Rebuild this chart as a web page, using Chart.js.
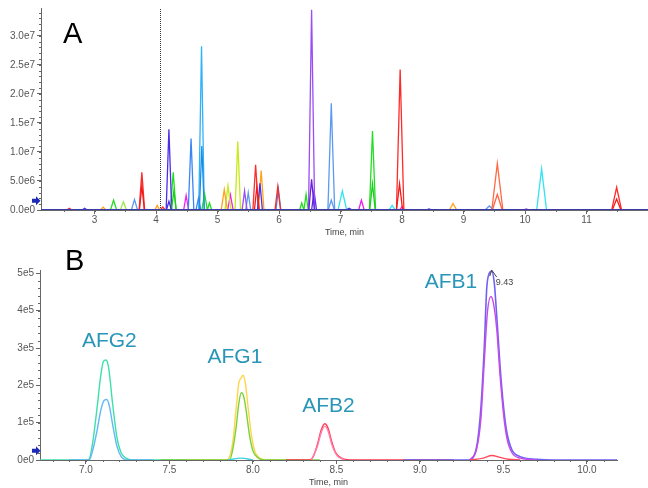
<!DOCTYPE html>
<html><head><meta charset="utf-8">
<script src="https://cdn.jsdelivr.net/npm/chart.js@4.4.1/dist/chart.umd.min.js"></script>
<style>
html,body{margin:0;padding:0;background:#fff;width:648px;height:488px;overflow:hidden}
#a{position:absolute;left:0;top:0}
#b{position:absolute;left:0;top:240px}
</style></head><body>
<canvas id="a" width="648" height="240"></canvas>
<canvas id="b" width="648" height="248"></canvas>
<script>
// ---------- Panel A: peaks as [retention time (min), height (x1e6), half base width (min)] ----------
const peaksRed      = [[2.59,0.3,0.04],[3.77,6.5,0.045],[4.11,0.5,0.04],[5.62,7.8,0.045],[5.98,4.0,0.045],[7.97,24.2,0.06],[11.49,3.9,0.08]];
const peaksRedQ     = [[3.77,4.2,0.04],[5.64,4.0,0.04],[7.96,4.5,0.05],[11.49,1.9,0.07]];
const peaksOrRed    = [[9.55,8.0,0.09]];
const peaksOrRedQ   = [[9.55,2.7,0.08]];
const peaksOrange   = [[3.14,0.5,0.045],[4.02,0.8,0.04],[5.11,3.5,0.05],[5.71,6.8,0.045],[8.83,1.1,0.06]];
const peaksGreen    = [[3.31,1.7,0.05],[4.28,6.5,0.045],[4.79,2.8,0.045],[4.87,1.2,0.035],[6.37,1.2,0.035],[6.44,2.7,0.035],[7.52,13.6,0.05]];
const peaksGreenQ   = [[4.29,3.2,0.04],[7.52,4.5,0.045]];
const peaksLtGreen  = [[3.47,1.4,0.05]];
const peaksYlGreen  = [[5.17,4.2,0.05],[5.33,11.8,0.045]];
const peaksCorn     = [[3.65,1.8,0.05],[5.50,3.0,0.04],[6.85,18.4,0.055],[9.42,0.7,0.07]];
const peaksCornQ    = [[6.85,1.7,0.05]];
const peaksSteel    = [[5.99,3.6,0.04]];
const peaksDodger   = [[4.57,12.3,0.045],[4.69,2.0,0.04]];
const peaksSky      = [[4.74,28.2,0.045]];
const peaksSkyQ     = [[4.745,11.0,0.04]];
const peaksCyan     = [[7.03,3.3,0.07],[7.84,0.8,0.05],[10.27,7.1,0.08]];
const peaksMagenta  = [[4.49,2.5,0.04],[5.21,2.6,0.045],[7.34,1.7,0.045],[8.00,0.6,0.04]];
const peaksPurple   = [[5.44,3.3,0.04],[6.53,34.5,0.05],[10.02,0.2,0.05]];
const peaksPurpleQ  = [[6.53,5.3,0.045]];
const peaksViolet   = [[2.84,0.3,0.04],[4.21,13.9,0.045],[5.69,4.6,0.04],[6.57,3.2,0.04],[7.14,0.3,0.05],[8.44,0.2,0.05]];
const peaksVioletQ  = [[4.21,1.5,0.04]];
const aTimeRange    = [2.13, 12.0];
const aXTicks       = [3,4,5,6,7,8,9,10,11];
const aYTicks       = [0,5e6,1e7,1.5e7,2e7,2.5e7,3e7];
const aXMinorStep   = 0.5;
const aYMinorStep   = 1e6;
const aMarkerTime   = 4.06;
const aArrowLevel   = 1.6e6;

// ---------- Panel B: traces as [time (min), intensity (x1e5)] ----------
const afg2Green = [[6.725,0],[7.0,0],[7.02,0.03],[7.04,0.45],[7.065,1.33],[7.09,2.3],[7.105,2.64],[7.12,2.68],[7.135,2.5],[7.16,1.5],[7.185,0.62],[7.21,0.2],[7.24,0.05],[7.28,0],[7.6,0]];
const afg2Blue  = [[6.9,0],[7.02,0],[7.04,0.25],[7.065,0.75],[7.09,1.35],[7.11,1.6],[7.125,1.62],[7.14,1.45],[7.16,0.95],[7.185,0.38],[7.21,0.1],[7.25,0],[7.4,0]];
const afg1Yellow= [[7.6,0],[7.84,0],[7.86,0.08],[7.88,0.5],[7.9,1.4],[7.915,2.05],[7.93,2.2],[7.94,2.27],[7.955,2.05],[7.97,1.45],[7.99,0.7],[8.01,0.25],[8.04,0.05],[8.08,0],[8.3,0]];
const afg1Green = [[7.45,0],[7.86,0],[7.88,0.3],[7.9,0.9],[7.915,1.5],[7.93,1.8],[7.945,1.7],[7.96,1.3],[7.98,0.65],[8.0,0.25],[8.03,0.06],[8.07,0],[8.4,0]];
const cyanBump  = [[7.85,0],[7.93,0.05],[8.0,0]];
const afb2Red   = [[8.2,0],[8.34,0],[8.36,0.08],[8.385,0.4],[8.41,0.82],[8.43,0.97],[8.45,0.85],[8.47,0.52],[8.495,0.2],[8.53,0.05],[8.58,0],[9.2,0]];
const afb2Pink  = [[8.35,0],[8.385,0.35],[8.41,0.75],[8.43,0.9],[8.45,0.78],[8.47,0.45],[8.5,0.14],[8.55,0]];
const afb1Blue  = [[8.9,0],[9.29,0],[9.32,0.08],[9.345,0.5],[9.365,1.4],[9.385,3.0],[9.40,4.6],[9.415,5.0],[9.43,5.06],[9.445,4.75],[9.46,3.85],[9.48,2.5],[9.50,1.45],[9.52,0.75],[9.55,0.28],[9.6,0.09],[9.7,0.02],[9.8,0],[10.18,0]];
const afb1Violet= [[9.3,0],[9.34,0.3],[9.365,1.1],[9.385,2.6],[9.405,4.0],[9.425,4.38],[9.44,4.2],[9.46,3.5],[9.48,2.25],[9.50,1.25],[9.52,0.6],[9.55,0.2],[9.6,0.05],[9.7,0]];
const afb1Red   = [[9.3,0],[9.38,0.05],[9.43,0.12],[9.48,0.07],[9.53,0.02],[9.6,0]];
const peakNames  = ['AFG2','AFG1','AFB2','AFB1'];
const peakLabelX = [7.14, 7.892, 8.452, 9.186];
const peakLabelY = [3.03e5, 2.6e5, 1.285e5, 4.605e5];
const apexTime   = 9.43;
const apexValue  = 5.06e5;
const bTimeRange = [6.725, 10.18];
const bXTicks    = [7.0,7.5,8.0,8.5,9.0,9.5,10.0];
const bYTicks    = [0,1e5,2e5,3e5,4e5,5e5];
const bXMinorStep= 0.1;
const bYMinorStep= 2e4;
const bArrowLevel= 0.25e5;

// ---------- helpers ----------
function tri(peaks){
  const d=[];
  peaks.forEach(([t,h,w])=>{ d.push({x:t-w,y:0},{x:t,y:h*1e6},{x:t+w,y:0}); });
  return d;
}
function pts(arr){ return arr.map(([x,y])=>({x:x,y:y*1e5})); }
function ds(data,color,w){ return {data:data,borderColor:color,borderWidth:w||1.3,pointRadius:0,fill:false,tension:0}; }
const setTicks = (vals)=> (scale)=>{ scale.ticks = vals.map(v=>({value:v})); };

function drawArrow(ctx,y){
  ctx.save(); ctx.fillStyle='#1c2bb5';
  ctx.beginPath();
  ctx.moveTo(32,y-2); ctx.lineTo(36,y-2); ctx.lineTo(36,y-4.5); ctx.lineTo(40.5,y);
  ctx.lineTo(36,y+4.5); ctx.lineTo(36,y+2); ctx.lineTo(32,y+2); ctx.closePath(); ctx.fill();
  ctx.restore();
}
function drawMinor(chart,xStep,yStep){
  const ctx=chart.ctx, xs=chart.scales.x, ys=chart.scales.y, ca=chart.chartArea;
  ctx.save(); ctx.strokeStyle='#666'; ctx.lineWidth=1; ctx.beginPath();
  for(let i=Math.ceil(xs.min/xStep);i*xStep<=xs.max+1e-9;i++){
    const x=Math.round(xs.getPixelForValue(i*xStep))+0.5;
    ctx.moveTo(x,ca.bottom); ctx.lineTo(x,ca.bottom+2);
  }
  for(let i=Math.ceil(ys.min/yStep);i*yStep<=ys.max+1e-9;i++){
    const y=Math.round(ys.getPixelForValue(i*yStep))+0.5;
    ctx.moveTo(ca.left,y); ctx.lineTo(ca.left-2,y);
  }
  ctx.stroke(); ctx.restore();
}

const tickFont = {family:'"Liberation Sans", Arial, sans-serif', size:10};
const titleFont = {family:'"Liberation Sans", Arial, sans-serif', size:9};
const gridOpt = {drawOnChartArea:false,drawTicks:true,tickLength:4,color:'#666'};

// ---------- Chart A ----------
const pluginA = {
  id:'decoA',
  beforeDatasetsDraw(chart){
    const ctx=chart.ctx, xs=chart.scales.x, ca=chart.chartArea;
    const x=Math.round(xs.getPixelForValue(aMarkerTime))+0.5;
    ctx.save(); ctx.strokeStyle='#333'; ctx.lineWidth=1; ctx.setLineDash([1,1]);
    ctx.beginPath(); ctx.moveTo(x,ca.top+1); ctx.lineTo(x,ca.bottom); ctx.stroke(); ctx.restore();
    drawMinor(chart,aXMinorStep,aYMinorStep);
  },
  afterDraw(chart){
    const ctx=chart.ctx, ys=chart.scales.y;
    ctx.save(); ctx.fillStyle='#000'; ctx.font='29px "Liberation Sans", Arial, sans-serif';
    ctx.textBaseline='alphabetic'; ctx.fillText('A',63,43); ctx.restore();
    drawArrow(ctx,ys.getPixelForValue(aArrowLevel));
  }
};
const baseA = ds([{x:aTimeRange[0],y:0},{x:aTimeRange[1],y:0}],'#3a3aac',2.2);
new Chart(document.getElementById('a'),{
  type:'line',
  data:{datasets:[
    baseA,
    ds(tri(peaksPurpleQ),'#6a1fd6'),
    ds(tri(peaksVioletQ),'#4a2de0'),
    ds(tri(peaksSkyQ),'#1a8de8'),
    ds(tri(peaksRedQ),'#f01c1c'),
    ds(tri(peaksOrRedQ),'#ff6040'),
    ds(tri(peaksGreenQ),'#1ccc1c'),
    ds(tri(peaksCornQ),'#5a9af0'),
    ds(tri(peaksPurple),'#9a4cf5'),
    ds(tri(peaksViolet),'#4c2ee8'),
    ds(tri(peaksRed),'#ff2a2a'),
    ds(tri(peaksOrRed),'#ff6a45'),
    ds(tri(peaksOrange),'#ffa31a'),
    ds(tri(peaksGreen),'#22dd22'),
    ds(tri(peaksLtGreen),'#a0e84a'),
    ds(tri(peaksYlGreen),'#c6ea1a'),
    ds(tri(peaksCorn),'#5a9af0'),
    ds(tri(peaksSteel),'#3c8ce6'),
    ds(tri(peaksDodger),'#3a86f5'),
    ds(tri(peaksSky),'#30b2f8'),
    ds(tri(peaksCyan),'#30e4f0'),
    ds(tri(peaksMagenta),'#ee22ee')
  ]},
  options:{
    responsive:false, animation:false, devicePixelRatio:1,
    layout:{padding:{top:5,right:0,left:0,bottom:0}},
    plugins:{legend:{display:false},tooltip:{enabled:false}},
    scales:{
      x:{type:'linear',min:aTimeRange[0],max:aTimeRange[1],
        afterFit(s){s.height=30;},
        afterBuildTicks:setTicks(aXTicks),
        ticks:{autoSkip:false,maxRotation:0,padding:0,color:'#555',font:tickFont,
          callback:(v)=>String(v)},
        grid:gridOpt,
        border:{display:true,color:'#666'},
        title:{display:true,text:'Time, min',color:'#444',font:titleFont,padding:{top:0,bottom:2.5}}
      },
      y:{type:'linear',min:0,max:3.48e7,
        afterFit(s){s.width=41;},
        afterBuildTicks:setTicks(aYTicks),
        ticks:{autoSkip:false,padding:2,color:'#555',font:tickFont,
          callback:(v)=> v===0?'0.0e0':v.toExponential(1).replace('e+','e')},
        grid:gridOpt,
        border:{display:true,color:'#666'}
      }
    }
  },
  plugins:[pluginA]
});

// ---------- Chart B ----------
const pluginB = {
  id:'decoB',
  beforeDatasetsDraw(chart){ drawMinor(chart,bXMinorStep,bYMinorStep); },
  afterDraw(chart){
    const ctx=chart.ctx, xs=chart.scales.x, ys=chart.scales.y;
    ctx.save();
    ctx.fillStyle='#000'; ctx.font='29px "Liberation Sans", Arial, sans-serif';
    ctx.textBaseline='alphabetic'; ctx.fillText('B',65,30);
    ctx.fillStyle='#2996b8'; ctx.font='21px "Liberation Sans", Arial, sans-serif'; ctx.textAlign='center';
    peakNames.forEach((n,i)=>ctx.fillText(n,xs.getPixelForValue(peakLabelX[i]),ys.getPixelForValue(peakLabelY[i])));
    const ax=xs.getPixelForValue(apexTime), ay=ys.getPixelForValue(apexValue);
    ctx.strokeStyle='#444'; ctx.lineWidth=1;
    ctx.beginPath(); ctx.moveTo(ax-2,ay+5); ctx.lineTo(ax,ay-1); ctx.lineTo(ax+5,ay+6); ctx.stroke();
    ctx.fillStyle='#444'; ctx.font='9px "Liberation Sans", Arial, sans-serif'; ctx.textAlign='left';
    ctx.fillText(apexTime.toFixed(2),ax+4,ay+14);
    ctx.restore();
    drawArrow(ctx,ys.getPixelForValue(bArrowLevel));
  }
};
const dsB=(a,c,w)=>Object.assign(ds(pts(a),c,w||1.4),{cubicInterpolationMode:'monotone'});
new Chart(document.getElementById('b'),{
  type:'line',
  data:{datasets:[
    dsB(afb1Red,'#ff4a5a'),
    dsB(afb1Violet,'#c84ae8'),
    dsB(afb1Blue,'#6e62f5',1.6),
    dsB(afb2Pink,'#ff80aa'),
    dsB(afb2Red,'#ff3a55'),
    dsB(cyanBump,'#40d0e0'),
    dsB(afg1Green,'#78d43a'),
    dsB(afg1Yellow,'#ffd54a'),
    dsB(afg2Blue,'#62b8f6'),
    dsB(afg2Green,'#3ee0a8')
  ]},
  options:{
    responsive:false, animation:false, devicePixelRatio:1,
    layout:{padding:{top:30,right:31,left:0,bottom:0}},
    plugins:{legend:{display:false},tooltip:{enabled:false}},
    scales:{
      x:{type:'linear',min:bTimeRange[0],max:bTimeRange[1],
        afterFit(s){s.height=28;},
        afterBuildTicks:setTicks(bXTicks),
        ticks:{autoSkip:false,maxRotation:0,padding:0,color:'#555',font:tickFont,
          callback:(v)=>v.toFixed(1)},
        grid:gridOpt,
        border:{display:true,color:'#666'},
        title:{display:true,text:'Time, min',color:'#444',font:titleFont,padding:{top:0,bottom:0}}
      },
      y:{type:'linear',min:0,max:5.09e5,
        afterFit(s){s.width=40;},
        afterBuildTicks:setTicks(bYTicks),
        ticks:{autoSkip:false,padding:2,color:'#555',font:tickFont,
          callback:(v)=> v===0?'0e0':v.toExponential(0).replace('e+','e')},
        grid:gridOpt,
        border:{display:true,color:'#666'}
      }
    }
  },
  plugins:[pluginB]
});
</script>
</body></html>
